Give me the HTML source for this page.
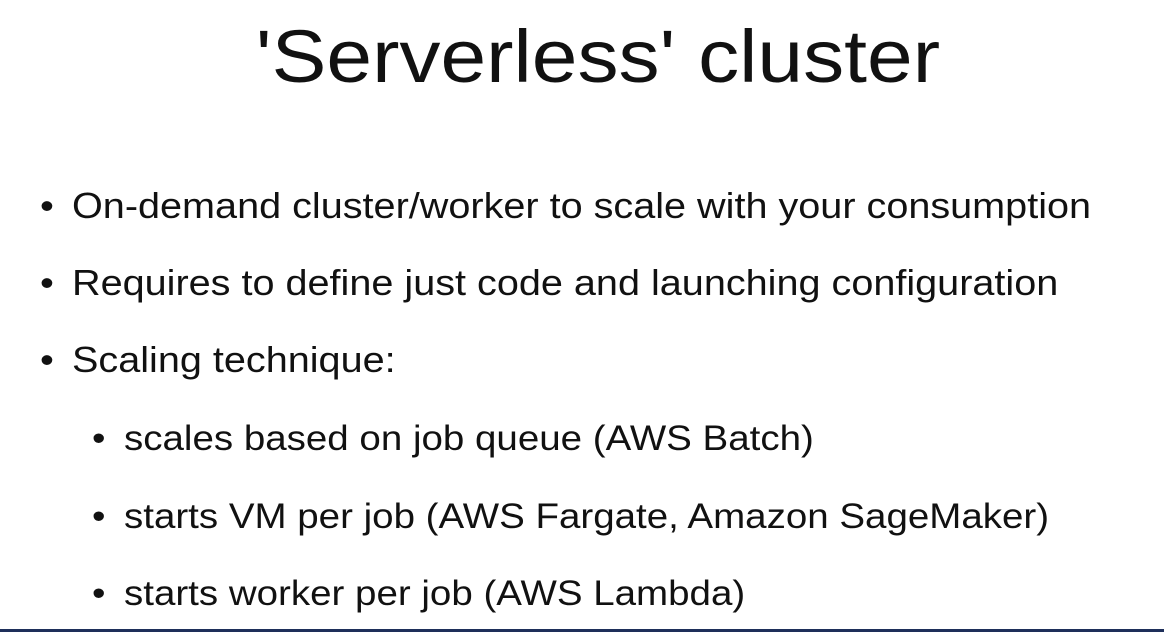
<!DOCTYPE html>
<html><head><style>
body{margin:0;width:1164px;height:632px;background:#fff;position:relative;overflow:hidden;font-family:"Liberation Sans",Arial,sans-serif;color:#111}
.t{position:absolute;white-space:nowrap}
.title{left:16px;width:1164px;text-align:center;top:12px;font-size:74px;line-height:90px;transform:scaleX(1.11);transform-origin:582px 0}
.b{font-size:36px;line-height:40px;transform:scaleX(1.1);transform-origin:0 0}
.s{font-size:35px;line-height:40px;transform:scaleX(1.1);transform-origin:0 0}
.bar{position:absolute;left:0;bottom:0;width:1164px;height:3px;background:#1e2f5a}
</style></head><body>
<div class="t title">'Serverless' cluster</div>
<div class="t b" style="left:40px;top:186px">•</div><div class="t b" style="left:72px;top:186px">On-demand cluster/worker to scale with your consumption</div>
<div class="t b" style="left:40px;top:263px">•</div><div class="t b" style="left:72px;top:263px">Requires to define just code and launching configuration</div>
<div class="t b" style="left:40px;top:340px">•</div><div class="t b" style="left:72px;top:340px">Scaling technique:</div>
<div class="t s" style="left:92px;top:419px">•</div><div class="t s" style="left:124px;top:419px">scales based on job queue (AWS Batch)</div>
<div class="t s" style="left:92px;top:497px">•</div><div class="t s" style="left:124px;top:497px">starts VM per job (AWS Fargate, Amazon SageMaker)</div>
<div class="t s" style="left:92px;top:574px">•</div><div class="t s" style="left:124px;top:574px">starts worker per job (AWS Lambda)</div>
<div class="bar"></div>
</body></html>
